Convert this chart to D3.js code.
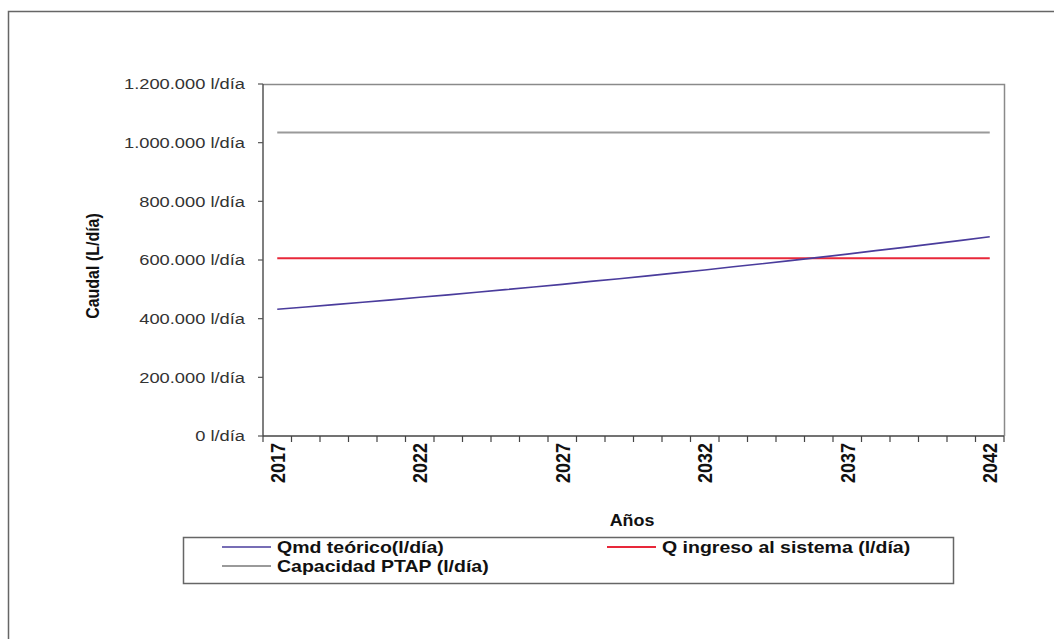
<!DOCTYPE html>
<html><head><meta charset="utf-8">
<script src="https://cdn.jsdelivr.net/npm/d3@7"></script>
<style>body{margin:0;background:#fff}svg{display:block}text{font-family:"Liberation Sans",Arial,sans-serif}</style>
</head><body>
<svg id="c" width="1054" height="639"></svg>
<script>
const years = ["2017","2018","2019","2020","2021","2022","2023","2024","2025","2026","2027","2028","2029","2030","2031","2032","2033","2034","2035","2036","2037","2038","2039","2040","2041","2042"];
const qmdTeorico = [432000,440000,448000,456000,464000,473000,481000,490000,499000,508000,517000,527000,536000,546000,556000,566000,577000,587000,598000,609000,620000,632000,643000,655000,667000,679000];
const qIngreso = years.map(() => 606000);
const capacidadPTAP = years.map(() => 1035000);
const yTicks = [0,200000,400000,600000,800000,1000000,1200000];
const xLabelYears = ["2017","2022","2027","2032","2037","2042"];
const seriesNames = ["Qmd teórico(l/día)","Q ingreso al sistema (l/día)","Capacidad PTAP (l/día)"];

const svg = d3.select("#c");
const L=263,R=1004,T=84,B=436, SX=1.22;
const x = d3.scaleBand().domain(years).range([L,R]).padding(0);
const xc = d => x(d)+x.bandwidth()/2;
const y = d3.scaleLinear().domain([0,1200000]).range([B,T]);
const fmt = v => d3.format(",")(v).replace(/,/g,".") + " l/día";

// outer border
svg.append("rect").attr("x",8.5).attr("y",11.5).attr("width",1060).attr("height",640)
  .attr("fill","none").attr("stroke","#666").attr("stroke-width",1.5);

// plot frame top/right
svg.append("path").attr("d",`M${L},${T+0.5}H${R+0.5}V${B}`).attr("fill","none").attr("stroke","#8a8a8a").attr("stroke-width",1.5);

// y axis
const g = svg.append("g");
g.append("line").attr("x1",L).attr("x2",L).attr("y1",T).attr("y2",B).attr("stroke","#555").attr("stroke-width",1.5);
yTicks.forEach(t=>{
  g.append("line").attr("x1",L-5).attr("x2",L).attr("y1",y(t)).attr("y2",y(t)).attr("stroke","#555").attr("stroke-width",1.2);
  g.append("text").attr("transform",`translate(245,${y(t)}) scale(${SX},1)`).attr("dy","0.36em")
    .attr("text-anchor","end").attr("font-size",15).attr("fill","#333").text(fmt(t));
});

// x axis
g.append("line").attr("x1",L).attr("x2",R).attr("y1",B).attr("y2",B).attr("stroke","#444").attr("stroke-width",1.5);
years.concat(["end"]).forEach((d,i)=>{
  const xx = i<years.length ? x(d) : R;
  g.append("line").attr("x1",xx).attr("x2",xx).attr("y1",B).attr("y2",B+6).attr("stroke","#444").attr("stroke-width",1.2);
});
xLabelYears.forEach(d=>{
  g.append("text").attr("transform",`translate(${xc(d)},443) scale(1.15,1) rotate(-90)`)
    .attr("dy","0.36em").attr("text-anchor","end").attr("font-size",18).attr("font-weight","bold").attr("fill","#111").text(d);
});

// axis titles
svg.append("text").attr("transform",`translate(632,520) scale(1.12,1)`).attr("text-anchor","middle")
  .attr("dy","0.36em").attr("font-size",16).attr("font-weight","bold").attr("fill","#111").text("Años");
svg.append("text").attr("transform",`translate(93,266) scale(1.1,1) rotate(-90)`).attr("text-anchor","middle")
  .attr("dy","0.36em").attr("font-size",16).attr("font-weight","bold").attr("fill","#111").text("Caudal (L/día)");

// lines
const line = d3.line().x((d,i)=>xc(years[i])).y(d=>y(d));
const styles = [
  {data:qmdTeorico,color:"#4a3c9c",w:1.6},
  {data:qIngreso,color:"#e8283a",w:2.2},
  {data:capacidadPTAP,color:"#9a9a9a",w:2}
];
[2,1,0].forEach(i=>{
  svg.append("path").attr("d",line(styles[i].data)).attr("fill","none")
    .attr("stroke",styles[i].color).attr("stroke-width",styles[i].w);
});

// legend
svg.append("rect").attr("x",183.5).attr("y",537.5).attr("width",770).attr("height",46)
  .attr("fill","#fff").attr("stroke","#666").attr("stroke-width",1.5);
const legPos = [{x:222,y:547},{x:607,y:547},{x:222,y:566}];
legPos.forEach((p,i)=>{
  svg.append("line").attr("x1",p.x).attr("x2",p.x+49).attr("y1",p.y).attr("y2",p.y)
    .attr("stroke",styles[i].color).attr("stroke-width",styles[i].w);
  svg.append("text").attr("transform",`translate(${p.x+55},${p.y}) scale(${SX},1)`).attr("dy","0.36em")
    .attr("font-size",16).attr("font-weight","bold").attr("fill","#111").text(seriesNames[i]);
});
</script>
</body></html>
